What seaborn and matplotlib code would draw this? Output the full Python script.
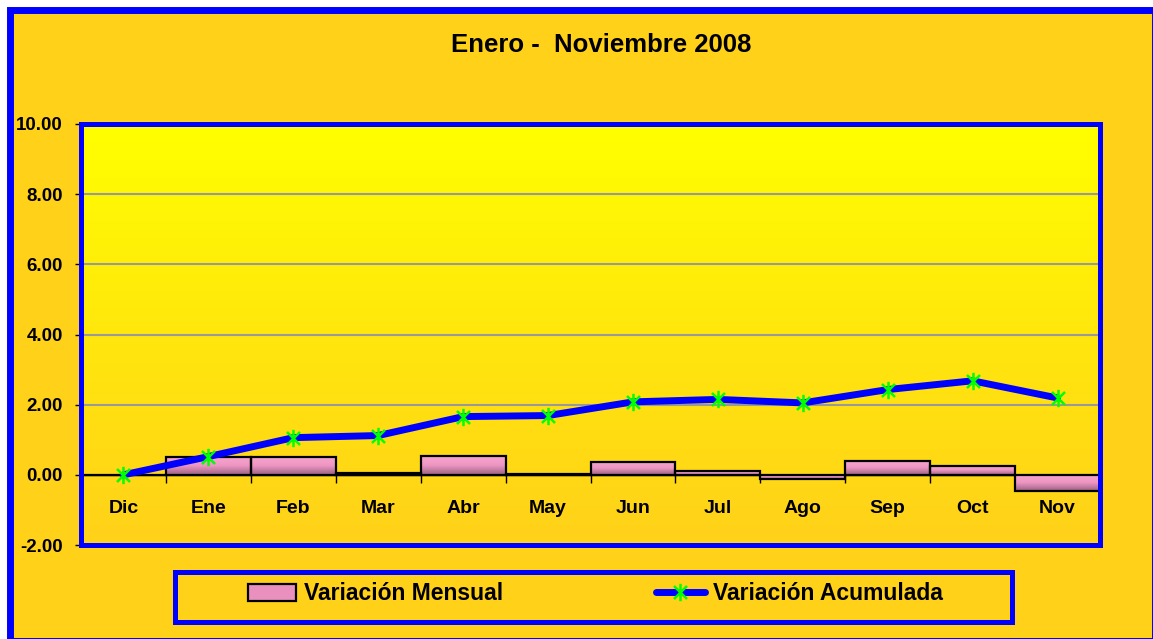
import numpy as np
import matplotlib
matplotlib.use("Agg")
import matplotlib.pyplot as plt
from matplotlib.colors import LinearSegmentedColormap
from matplotlib.lines import Line2D
from matplotlib.patches import Patch, Rectangle
from matplotlib.path import Path
import seaborn as sns

meses = ["Dic", "Ene", "Feb", "Mar", "Abr", "May", "Jun", "Jul", "Ago", "Sep", "Oct", "Nov"]
variacion_mensual = [0.00, 0.52, 0.52, 0.06, 0.55, 0.03, 0.38, 0.10, -0.11, 0.40, 0.26, -0.47]
variacion_acumulada = [0.00, 0.52, 1.06, 1.12, 1.66, 1.69, 2.08, 2.15, 2.05, 2.43, 2.68, 2.19]
yticks = [-2, 0, 2, 4, 6, 8, 10]
titulo = "Enero -  Noviembre 2008"

BG = "#FFD118"
BLUE = "#0000FF"

sns.set_style("white")
plt.rcParams["font.family"] = ["Liberation Sans", "DejaVu Sans"]
plt.rcParams["font.weight"] = "bold"
for key in ["text.color", "axes.labelcolor", "xtick.color", "ytick.color"]:
    plt.rcParams[key] = "black"

fig = plt.figure(figsize=(11.53, 6.39), dpi=100, facecolor="white")
# outer frame of the chart
fig.add_artist(Rectangle((10.5 / 1153, -2 / 639), 0.9926, 0.9867, transform=fig.transFigure,
                         facecolor=BG, edgecolor=BLUE, linewidth=5, zorder=-1))
ax = fig.add_axes([81 / 1153, 1 - 545 / 639, 1019 / 1153, 421 / 639])
ax.set_facecolor("none")

# plot area gradient: yellow on top to golden at bottom
area_cmap = LinearSegmentedColormap.from_list("area", ["#FFFF00", "#FFE70C", "#FFD11A"])
ax.imshow(np.linspace(0, 1, 256).reshape(-1, 1), cmap=area_cmap, aspect="auto",
          extent=[0, 1, 0, 1], transform=ax.transAxes, zorder=0)

sns.barplot(x=meses, y=variacion_mensual, width=1.0, color="#F49BC9",
            edgecolor="black", linewidth=1.6, ax=ax, zorder=2)

# gradient fill inside each bar
bar_cmap = LinearSegmentedColormap.from_list("bar", ["#F9A6D0", "#EE96C3", "#9A6281"])
for bar in ax.patches:
    h = bar.get_height()
    if h == 0:
        continue
    x0 = bar.get_x()
    y0 = bar.get_y()
    bar.set_facecolor("none")
    img = ax.imshow(np.linspace(0, 1, 64).reshape(-1, 1), cmap=bar_cmap, aspect="auto",
                    extent=[x0, x0 + bar.get_width(), min(y0, y0 + h), max(y0, y0 + h)],
                    zorder=1.5)
    img.set_clip_path(bar)

star = Path([(0, -1), (0, 1), (-0.75, -0.75), (0.75, 0.75), (-0.75, 0.75), (0.75, -0.75)],
            [Path.MOVETO, Path.LINETO, Path.MOVETO, Path.LINETO, Path.MOVETO, Path.LINETO])
sns.lineplot(x=meses, y=variacion_acumulada, sort=False, color=BLUE, linewidth=5,
             marker=star, markersize=12.5, markeredgecolor="#00FF00", markeredgewidth=1.8,
             ax=ax, zorder=4)

ax.axhline(0, color="black", linewidth=1.2, zorder=1.8)

ax.set_xlim(-0.5, len(meses) - 0.5)
ax.set_ylim(-2, 10)
ax.set_yticks(yticks, labels=[f"{v:.2f}" for v in yticks])
ax.set_xticks([])
ax.set_xlabel("")
ax.set_ylabel("")
ax.grid(axis="y", color="#999999", linewidth=1.5, zorder=0.5)
ax.set_axisbelow(True)
ax.tick_params(axis="y", direction="out", length=4, width=1, color="black", pad=9,
               labelsize=13.5, labelcolor="black", left=True)
for lab in ax.get_yticklabels():
    lab.set_fontweight("bold")
for sp in ax.spines.values():
    sp.set_color(BLUE)
    sp.set_linewidth(3.6)
    sp.set_zorder(5)

# category axis sitting on the zero line
sec = ax.secondary_xaxis(2 / 12)
sec.spines["bottom"].set_color("black")
sec.spines["bottom"].set_linewidth(1.0)
sec.set_xticks(np.arange(len(meses) + 1) - 0.5)
sec.set_xticklabels([])
sec.set_xticks(np.arange(len(meses)), labels=meses, minor=True)
sec.tick_params(which="major", direction="out", length=6, width=1, color="black")
sec.tick_params(which="minor", length=0, pad=18, labelsize=14, labelcolor="black")
for lab in sec.get_xticklabels(minor=True):
    lab.set_fontweight("bold")

fig.text(601 / 1153, 1 - 45 / 639, titulo, ha="center", va="center",
         fontsize=18.5, fontweight="bold", color="black")

# legend
fig.add_artist(Rectangle((175 / 1153, 1 - 622 / 639), 837 / 1153, 50 / 639,
                         transform=fig.transFigure, facecolor="none",
                         edgecolor=BLUE, linewidth=3.6, zorder=5))
handles = [
    Patch(facecolor="#E990BE", edgecolor="black", linewidth=1.6, label="Variación Mensual"),
    Line2D([], [], color=BLUE, linewidth=5, marker=star, markersize=12.5,
           markeredgecolor="#00FF00", markeredgewidth=1.8, label="Variación Acumulada"),
]
leg = fig.legend(handles=handles, loc="center", bbox_to_anchor=(595 / 1153, 1 - 594 / 639),
                 ncol=2, frameon=False, handlelength=2.1, handletextpad=0.35,
                 columnspacing=6.7, numpoints=1, prop={"weight": "bold", "size": 16.5})
for t in leg.get_texts():
    t.set_color("black")

fig.savefig("out.png", dpi=100, facecolor="white")
